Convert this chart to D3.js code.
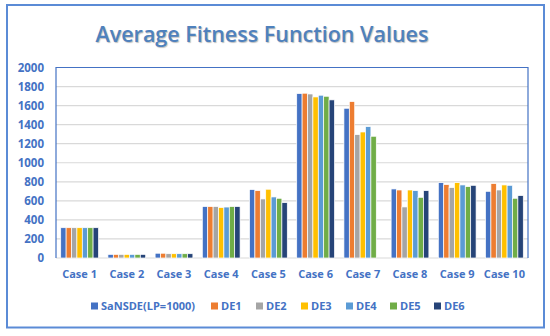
<!DOCTYPE html>
<meta charset="utf-8">
<style>
    body { margin: 0; background: #fff; }
    text { font-family: "Open Sans", sans-serif; }
    .tick text { font-weight: bold; fill: #4472c4; }
</style>
<svg width="550" height="336"></svg>
<script src="https://d3js.org/d3.v7.min.js"></script>
<script>

    var cases = ["Case 1", "Case 2", "Case 3", "Case 4", "Case 5", "Case 6", "Case 7", "Case 8", "Case 9", "Case 10"];
    var seriesNames = ["SaNSDE(LP=1000)", "DE1", "DE2", "DE3", "DE4", "DE5", "DE6"];
    var colors = ["#4472c4", "#ed7d31", "#a5a5a5", "#ffc000", "#5b9bd5", "#70ad47", "#264478"];
    var yTicks = [0, 200, 400, 600, 800, 1000, 1200, 1400, 1600, 1800, 2000];

    // one array per series, values per case (DE6 has no bar in Case 7)
    var sansde = [318, 38, 50, 540, 718, 1726, 1572, 725, 791, 700];
    var de1    = [318, 38, 50, 540, 707, 1730, 1642, 714, 770, 781];
    var de2    = [318, 38, 45, 540, 620, 1722, 1295, 536, 739, 714];
    var de3    = [318, 38, 45, 530, 722, 1691, 1323, 714, 791, 767];
    var de4    = [318, 38, 45, 535, 641, 1709, 1379, 707, 767, 763];
    var de5    = [318, 38, 45, 540, 627, 1698, 1278, 637, 749, 627];
    var de6    = [318, 38, 45, 540, 581, 1660, null, 707, 763, 655];
    var series = [sansde, de1, de2, de3, de4, de5, de6];

    var svg = d3.select("svg"),
        margin = {top: 67.5, right: 22, bottom: 78, left: 56},
        width = +svg.attr("width") - margin.left - margin.right,
        height = +svg.attr("height") - margin.top - margin.bottom;

    // outer chart border
    svg.append("rect")
        .attr("x", 7).attr("y", 5)
        .attr("width", 537).attr("height", 322.5)
        .attr("fill", "#fff")
        .attr("stroke", "#5b8bd6")
        .attr("stroke-width", 2);

    svg.append("text")
        .attr("x", 262).attr("y", 42)
        .attr("text-anchor", "middle")
        .attr("font-size", 21.5)
        .attr("font-weight", 600)
        .attr("fill", "#4f81bd")
        .attr("style", "text-shadow: 1px 1px 1px rgba(0,0,0,0.25)")
        .text("Average Fitness Function Values");

    var x0 = d3.scaleBand().domain(cases).range([0, width]).paddingInner(0.2).paddingOuter(0.1);
    var x1 = d3.scaleBand().domain(d3.range(series.length)).range([0, x0.bandwidth()]);
    var y = d3.scaleLinear().domain([0, 2000]).range([height, 0]);

    var g = svg.append("g")
        .attr("transform", "translate(" + margin.left + "," + margin.top + ")");

    g.append("g")
        .selectAll("line")
        .data(yTicks)
        .enter().append("line")
        .attr("x1", 0).attr("x2", width)
        .attr("y1", function(d) { return y(d); })
        .attr("y2", function(d) { return y(d); })
        .attr("stroke", "#d9d9d9")
        .attr("stroke-width", 1.2);

    var yAxis = g.append("g")
        .attr("transform", "translate(-6,0)")
        .call(d3.axisLeft(y).tickValues(yTicks).tickFormat(d3.format("d")).tickSize(0).tickPadding(6));
    yAxis.select(".domain").remove();
    yAxis.selectAll("text").attr("font-size", 11.5);

    var xAxis = g.append("g")
        .attr("transform", "translate(0," + height + ")")
        .call(d3.axisBottom(x0).tickSize(0).tickPadding(12));
    xAxis.select(".domain").remove();
    xAxis.selectAll("text").attr("font-size", 11);

    var groups = g.selectAll(".case")
        .data(cases)
        .enter().append("g")
        .attr("class", "case")
        .attr("transform", function(d) { return "translate(" + x0(d) + ",0)"; });

    groups.selectAll("rect")
        .data(function(d, i) {
            return series.map(function(s, k) { return {k: k, v: s[i]}; })
                .filter(function(e) { return e.v != null; });
        })
        .enter().append("rect")
        .attr("x", function(d) { return x1(d.k); })
        .attr("y", function(d) { return y(d.v); })
        .attr("width", x1.bandwidth())
        .attr("height", function(d) { return height - y(d.v); })
        .attr("fill", function(d) { return colors[d.k]; })
        .attr("stroke", "#fff")
        .attr("stroke-width", 0.7);

    // plot area border (left, top, right)
    g.append("path")
        .attr("d", "M0," + height + "V0H" + width + "V" + height)
        .attr("fill", "none")
        .attr("stroke", "#4472c4")
        .attr("stroke-width", 1.2);

    // legend
    var legendX = [91, 211, 256, 301, 346, 390, 434];
    var legend = svg.append("g").selectAll("g")
        .data(seriesNames)
        .enter().append("g")
        .attr("transform", function(d, i) { return "translate(" + legendX[i] + ",306)"; });
    legend.append("rect")
        .attr("x", 0).attr("y", -3.5)
        .attr("width", 7).attr("height", 7)
        .attr("fill", function(d, i) { return colors[i]; });
    legend.append("text")
        .attr("x", 10).attr("dy", "0.35em")
        .attr("font-size", 11)
        .attr("font-weight", "bold")
        .attr("fill", "#4472c4")
        .text(function(d) { return d; });

</script>
